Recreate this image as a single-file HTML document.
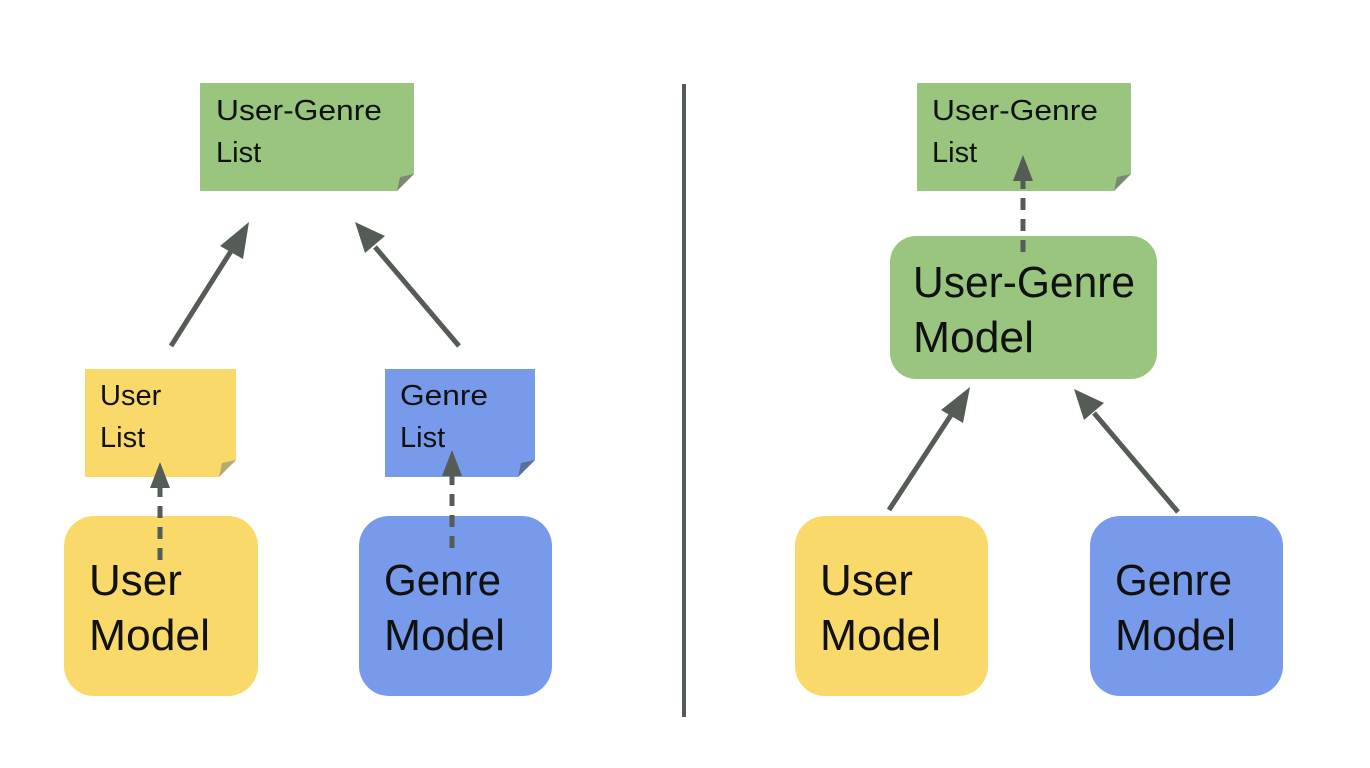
<!DOCTYPE html>
<html><head><meta charset="utf-8"><style>html,body{margin:0;padding:0;background:#fff}svg{display:block}</style></head>
<body>
<svg width="1370" height="768" viewBox="0 0 1370 768" xmlns="http://www.w3.org/2000/svg" font-family="Liberation Sans, sans-serif" fill="#111">
<rect x="682" y="84" width="4" height="633" fill="#555b55"/>

<!-- LEFT -->
<path d="M200 83 H414 V174 L397 191 H200 Z" fill="#9ac57e"/>
<path d="M414 174 L397 191 L400 177 Z" fill="#7a8a70"/>
<text x="216" y="120" font-size="29" textLength="166" lengthAdjust="spacingAndGlyphs">User-Genre</text>
<text x="216" y="162" font-size="29">List</text>

<path d="M85 369 H236 V460 L219 477 H85 Z" fill="#fad96b"/>
<path d="M236 460 L219 477 L222 463 Z" fill="#b8a870"/>
<text x="100" y="405" font-size="29">User</text>
<text x="100" y="447" font-size="29">List</text>

<path d="M385 369 H535 V460 L518 477 H385 Z" fill="#779bea"/>
<path d="M535 460 L518 477 L521 463 Z" fill="#5a6f9a"/>
<text x="400" y="405" font-size="29" textLength="88" lengthAdjust="spacingAndGlyphs">Genre</text>
<text x="400" y="447" font-size="29">List</text>

<rect x="64" y="516" width="194" height="180" rx="30" fill="#fad96b"/>
<text x="89" y="595" font-size="44">User</text>
<text x="89" y="650" font-size="44" textLength="121" lengthAdjust="spacingAndGlyphs">Model</text>

<rect x="359" y="516" width="193" height="180" rx="30" fill="#779bea"/>
<text x="384" y="595" font-size="44" textLength="117" lengthAdjust="spacingAndGlyphs">Genre</text>
<text x="384" y="650" font-size="44" textLength="121" lengthAdjust="spacingAndGlyphs">Model</text>

<!-- RIGHT -->
<path d="M917 83 H1131 V174 L1114 191 H917 Z" fill="#9ac57e"/>
<path d="M1131 174 L1114 191 L1117 177 Z" fill="#7a8a70"/>
<text x="932" y="120" font-size="29" textLength="166" lengthAdjust="spacingAndGlyphs">User-Genre</text>
<text x="932" y="162" font-size="29">List</text>

<rect x="890" y="236" width="267" height="143" rx="26" fill="#9ac57e"/>
<text x="913" y="297" font-size="44" textLength="222" lengthAdjust="spacingAndGlyphs">User-Genre</text>
<text x="913" y="352" font-size="44" textLength="121" lengthAdjust="spacingAndGlyphs">Model</text>

<rect x="795" y="516" width="193" height="180" rx="30" fill="#fad96b"/>
<text x="820" y="595" font-size="44">User</text>
<text x="820" y="650" font-size="44" textLength="121" lengthAdjust="spacingAndGlyphs">Model</text>

<rect x="1090" y="516" width="193" height="180" rx="30" fill="#779bea"/>
<text x="1115" y="595" font-size="44" textLength="117" lengthAdjust="spacingAndGlyphs">Genre</text>
<text x="1115" y="650" font-size="44" textLength="121" lengthAdjust="spacingAndGlyphs">Model</text>

<!-- arrows on top -->
<g stroke="#555b55" stroke-width="5" fill="none">
<line x1="171" y1="346" x2="233" y2="248"/>
<line x1="459" y1="346" x2="375" y2="247"/>
<line x1="160" y1="560" x2="160" y2="482" stroke-dasharray="12 9"/>
<line x1="452" y1="548" x2="452" y2="470" stroke-dasharray="12 9"/>
<line x1="1023" y1="252" x2="1023" y2="175" stroke-dasharray="12 9"/>
<line x1="889" y1="510" x2="953" y2="412"/>
<line x1="1178" y1="512" x2="1094" y2="413"/>
</g>
<g fill="#555b55">
<polygon points="249,222 220,246 243,259"/>
<polygon points="355,222 365,253 385,236"/>
<polygon points="160,462 150,488 170,488"/>
<polygon points="452,450 442,476 462,476"/>
<polygon points="1023,155 1013,181 1033,181"/>
<polygon points="970,387 941,410 963,423"/>
<polygon points="1074,389 1084,420 1104,403"/>
</g>
</svg>
</body></html>
